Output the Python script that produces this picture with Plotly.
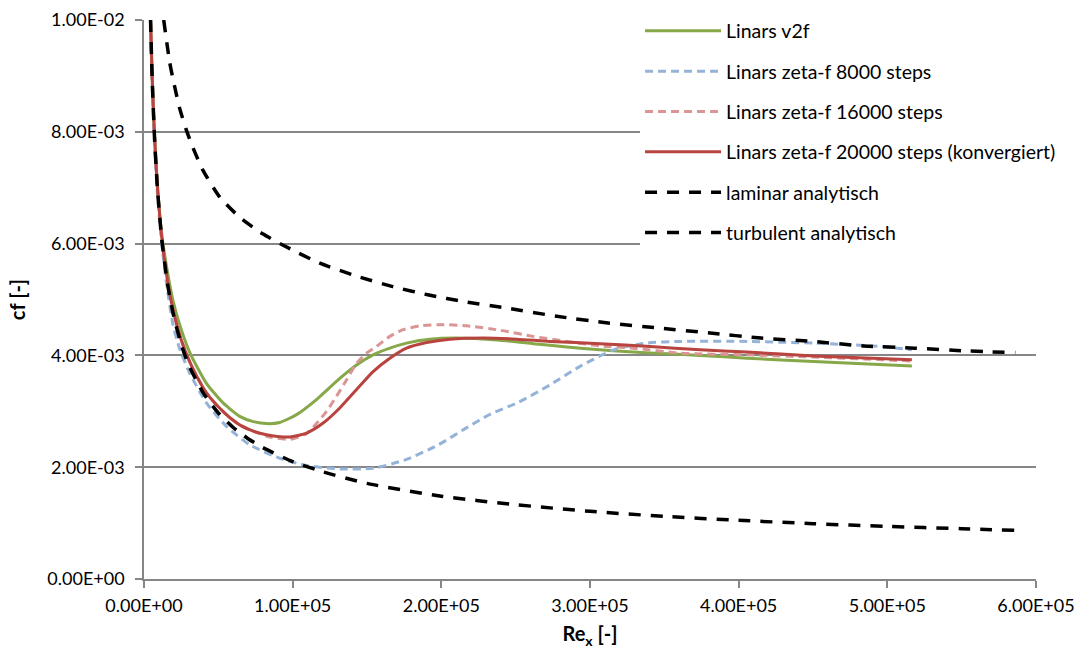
import plotly.graph_objects as go

# ---------------- data ----------------
re_v2f = [4400, 5500, 7000, 9000, 12000, 15100, 19500, 24000, 30800, 42000, 53200, 64400,
          73000, 82400, 91300, 102600, 116000, 131700, 143000, 154100, 165400, 176600,
          192300, 210300, 239400, 261800, 284300, 306700, 329100, 351600, 374000, 405500,
          450300, 516500]
cf_v2f = [10.0, 8.98, 7.98, 7.05, 6.15, 5.60, 4.98, 4.55, 4.05, 3.50, 3.15, 2.91,
          2.82, 2.78, 2.80, 2.94, 3.21, 3.59, 3.83, 4.01, 4.13, 4.22,
          4.29, 4.31, 4.27, 4.21, 4.15, 4.10, 4.06, 4.03, 4.00, 3.95,
          3.89, 3.81]

re_zf8000 = [4400, 5500, 7000, 9000, 12000, 15000, 19500, 24000, 30800, 42000, 55500, 71200,
             91300, 109300, 131700, 154100, 176600, 198000, 216000, 233000, 251000, 273000,
             293000, 316000, 338000, 361000, 406000, 450000, 495000, 516500]
cf_zf8000 = [10.0, 8.85, 7.85, 6.92, 5.98, 5.32, 4.55, 4.12, 3.68, 3.15, 2.73, 2.40,
             2.16, 2.03, 1.97, 1.98, 2.14, 2.40, 2.69, 2.95, 3.15, 3.47,
             3.80, 4.10, 4.22, 4.25, 4.25, 4.22, 4.16, 4.10]

re_zf16000 = [4400, 5500, 7000, 9000, 12000, 16000, 20000, 25000, 30000, 36000, 42000, 50000,
              58000, 66000, 71200, 84600, 98100, 109300, 116000, 122800, 129500, 136200,
              143000, 149700, 156400, 165400, 174300, 185600, 199000, 217000, 239600, 261800,
              284300, 306700, 329100, 360600, 405500, 450300, 516500]
cf_zf16000 = [10.0, 8.97, 7.96, 7.02, 6.10, 5.30, 4.76, 4.28, 3.93, 3.60, 3.33, 3.08,
              2.88, 2.74, 2.67, 2.54, 2.50, 2.60, 2.78, 3.00, 3.27, 3.56,
              3.86, 4.04, 4.16, 4.34, 4.46, 4.53, 4.55, 4.53, 4.45, 4.34,
              4.25, 4.17, 4.13, 4.04, 4.01, 3.97, 3.90]

re_zf20000 = [4400, 5500, 7000, 9000, 12000, 16000, 20000, 25000, 30000, 36000, 42000, 50000,
              58000, 66000, 74000, 82400, 90000, 98100, 109300, 120500, 131700, 143000,
              154100, 165400, 176600, 190100, 205800, 228200, 250700, 273100, 306700, 340400,
              374000, 405500, 450300, 516500]
cf_zf20000 = [10.0, 8.97, 7.96, 7.02, 6.10, 5.30, 4.76, 4.28, 3.93, 3.60, 3.33, 3.08,
              2.88, 2.73, 2.64, 2.58, 2.55, 2.54, 2.61, 2.79, 3.06, 3.39,
              3.71, 3.95, 4.13, 4.23, 4.29, 4.31, 4.29, 4.25, 4.21, 4.16,
              4.10, 4.06, 3.99, 3.92]

re_lam = [4400, 5500, 7000, 9000, 12000, 16000, 20000, 25000, 30000, 40000, 50000, 60000,
          70000, 80000, 100000, 120000, 150000, 200000, 250000, 300000, 350000, 400000,
          450000, 500000, 550000, 586000]
cf_lam = [10.0, 8.95, 7.94, 7.00, 6.06, 5.25, 4.70, 4.20, 3.83, 3.32, 2.97, 2.71,
          2.51, 2.35, 2.10, 1.92, 1.71, 1.48, 1.33, 1.21, 1.12, 1.05,
          0.99, 0.94, 0.90, 0.87]

re_turb = [13260, 17300, 20700, 24000, 28500, 33000, 39700, 51000, 64400, 80100, 93600, 118300,
           144000, 167400, 191600, 215700, 243200, 277600, 312100, 346500, 380800, 415100,
           449400, 484100, 518500, 552900, 586100]
cf_turb = [10.0, 9.24, 8.80, 8.42, 8.03, 7.71, 7.31, 6.83, 6.47, 6.17, 5.97, 5.65,
           5.41, 5.23, 5.08, 4.96, 4.85, 4.70, 4.58, 4.49, 4.40, 4.31,
           4.25, 4.17, 4.13, 4.08, 4.05]

x_tickvals = [0, 100000, 200000, 300000, 400000, 500000, 600000]
x_ticktext = ["0.00E+00", "1.00E+05", "2.00E+05", "3.00E+05", "4.00E+05", "5.00E+05", "6.00E+05"]
y_tickvals = [0, 0.002, 0.004, 0.006, 0.008, 0.010]
y_ticktext = ["0.00E+00", "2.00E-03", "4.00E-03", "6.00E-03", "8.00E-03", "1.00E-02"]

series = [
    ("Linars v2f", re_v2f, cf_v2f, "#86A848", "solid", 3),
    ("Linars zeta-f 8000 steps", re_zf8000, cf_zf8000, "#95B3D7", "8px,5px", 3),
    ("Linars zeta-f 16000 steps", re_zf16000, cf_zf16000, "#D99694", "8px,5px", 3),
    ("Linars zeta-f 20000 steps (konvergiert)", re_zf20000, cf_zf20000, "#B8433F", "solid", 3),
    ("laminar analytisch", re_lam, cf_lam, "#000000", "12px,10px", 3.5),
    ("turbulent analytisch", re_turb, cf_turb, "#000000", "12px,10px", 3.5),
]

FONT = "Lato, 'Open Sans', sans-serif"

fig = go.Figure()
for i, (name, xs, ys, col, dash, w) in enumerate(series):
    fig.add_trace(go.Scatter(
        x=xs, y=[v * 1e-3 for v in ys], mode="lines", name=name,
        legendgroup=f"g{i}",
        line=dict(color=col, width=w, dash=dash, shape="spline", smoothing=0.6),
    ))

fig.update_layout(
    width=1081, height=659,
    margin=dict(l=144, r=45, t=20, b=80, autoexpand=False),
    paper_bgcolor="white", plot_bgcolor="white",
    font=dict(family=FONT, size=18, color="#000000"),
    showlegend=True,
    legend=dict(
        x=0.5561, y=1.015, xanchor="left", yanchor="top",
        bgcolor="white", borderwidth=0,
        font=dict(family=FONT, size=19.5, color="#000000"),
        tracegroupgap=12, traceorder="grouped", itemwidth=76,
    ),
    xaxis=dict(
        range=[0, 600000], tickvals=x_tickvals, ticktext=x_ticktext,
        showgrid=False, zeroline=False, showline=True, linecolor="#868686", linewidth=1.5,
        ticks="outside", ticklen=7, tickcolor="#868686", tickwidth=1.5,
        tickfont=dict(size=18), ticklabelstandoff=3,
        title=dict(text="<b>Re<sub>x</sub> [-]</b>", font=dict(size=20), standoff=12),
    ),
    yaxis=dict(
        range=[0, 0.01], tickvals=y_tickvals, ticktext=y_ticktext,
        showgrid=True, gridcolor="#868686", gridwidth=1.5,
        zeroline=False, showline=True, linecolor="#868686", linewidth=1.5,
        ticks="outside", ticklen=7, tickcolor="#868686", tickwidth=1.5,
        tickfont=dict(size=18), ticklabelstandoff=7,
        title=dict(text="<b>cf [-]</b>", font=dict(size=20), standoff=16),
    ),
)

fig.write_html("out.html")
